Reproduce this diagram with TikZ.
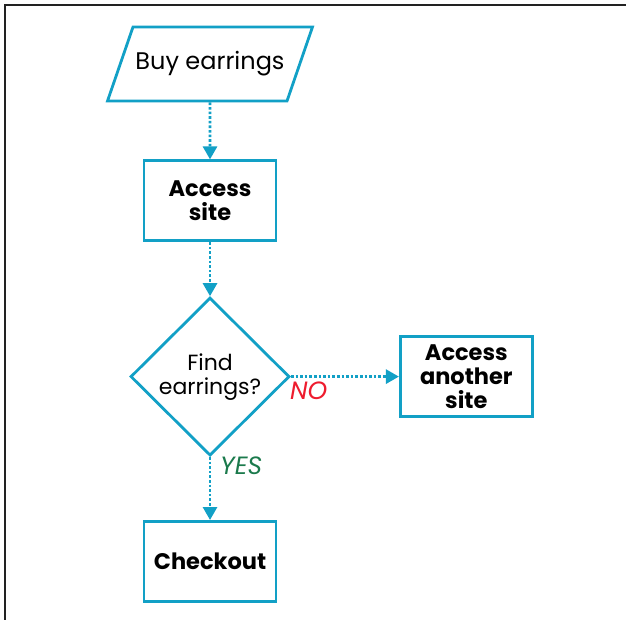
\documentclass[tikz,border=0pt]{standalone}
\usepackage{fontspec}
\setmainfont{Poppins}
\usepackage{tikz}
\usetikzlibrary{shapes.geometric, arrows.meta, positioning}
\usepackage{xcolor}
\definecolor{FlowCyan}{HTML}{12A0C6}
\definecolor{NoRed}{HTML}{EE1C2E}
\definecolor{YesGreen}{HTML}{1B7A4C}
\definecolor{FrameGrey}{HTML}{222222}
\tikzset{
  % Data parallelogram
  io/.style={
    trapezium, trapezium left angle=71,
    trapezium right angle=109,
    draw=FlowCyan, line width=2.8pt,
    text height=17pt, text depth=5pt,
    inner xsep=2.5pt, inner ysep=26pt,
    font=\fontsize{24}{24}\selectfont
  },
  % Process rectangle
  process/.style={
    rectangle, draw=FlowCyan, line width=2.8pt,
    minimum width=132pt, minimum height=80pt,
    text width=126pt, align=center, inner sep=0pt,
    font=\fontsize{22.5}{24}\selectfont\bfseries
  },
  % Decision diamond
  decision/.style={
    diamond, draw=FlowCyan, line width=2.8pt,
    minimum width=159pt, minimum height=158pt,
    aspect=1, inner sep=0pt, align=center,
    font=\fontsize{22}{24}\selectfont
  },
  % Arrow style
  arrow/.style={
    -{Triangle[length=13pt,width=14pt]}, draw=FlowCyan,
    line width=2.8pt, dash pattern=on 2.6pt off 2pt
  },
  % Branch labels
  branch/.style={
    font=\fontsize{25}{26}\selectfont\itshape, inner sep=0pt
  }
}
\begin{document}
\begin{tikzpicture}[x=1pt, y=1pt]
\useasboundingbox (0,0) rectangle (626,-620);

% Frame
\coordinate (frame_bl) at (5,-622);
\coordinate (frame_tl) at (5,-5);
\coordinate (frame_tr) at (628,-5);
\draw[FrameGrey, line width=1.6pt] (frame_bl) -- (frame_tl) -- (frame_tr);

% Start
\node[io] (buy_earrings) at (210,-64) {Buy earrings};

% Processing
\node[process, below=57pt of buy_earrings] (access_site)
  {Access\\site};

% Decision
\node[decision, below=54pt of access_site] (find_earrings)
  {Find\\earrings?};

% Outcomes
\node[process, right=108pt of find_earrings] (another_site)
  {Access\\another\\site};

\node[process, below=63pt of find_earrings] (checkout)
  {Checkout};

% Arrows
\draw[arrow] (buy_earrings) -- (access_site);
\draw[arrow] (access_site)  -- (find_earrings);
\draw[arrow] (find_earrings) -- (another_site);
\draw[arrow] (find_earrings) -- (checkout);

% Branch labels
\node[branch, text=NoRed, anchor=north west] (no_label)
  at ([xshift=-1pt, yshift=-5pt]find_earrings.east) {NO};
\node[branch, text=YesGreen, anchor=north west] (yes_label)
  at ([xshift=10pt, yshift=0pt]find_earrings.south) {YES};

\end{tikzpicture}
\end{document}
